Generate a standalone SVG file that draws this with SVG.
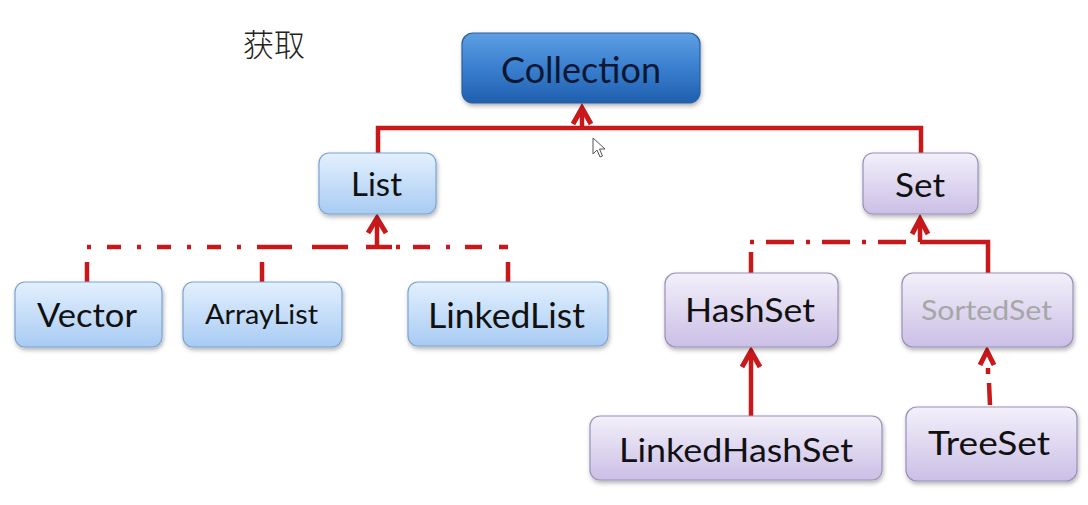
<svg xmlns="http://www.w3.org/2000/svg" width="1088" height="505" viewBox="0 0 1088 505">
<defs>
<linearGradient id="gBlue" x1="0" y1="0" x2="0" y2="1"><stop offset="0" stop-color="#5d9fe2"/><stop offset="0.5" stop-color="#3a7fcf"/><stop offset="1" stop-color="#1f5fae"/></linearGradient>
<linearGradient id="gLight" x1="0" y1="0" x2="0" y2="1"><stop offset="0" stop-color="#e3f0fe"/><stop offset="1" stop-color="#a8cbf3"/></linearGradient>
<linearGradient id="gPurple" x1="0" y1="0" x2="0" y2="1"><stop offset="0" stop-color="#f3f0fa"/><stop offset="1" stop-color="#cbbfe6"/></linearGradient>
<filter id="sh" x="-10%" y="-10%" width="125%" height="140%"><feDropShadow dx="1" dy="2.5" stdDeviation="2" flood-color="#000" flood-opacity="0.3"/></filter>
</defs>
<style>
.blue{fill:url(#gBlue);stroke:#2a5f9e;stroke-width:1.2;filter:url(#sh)}
.light{fill:url(#gLight);stroke:#7aa3d2;stroke-width:1.2;filter:url(#sh)}
.purple{fill:url(#gPurple);stroke:#9a90b8;stroke-width:1.2;filter:url(#sh)}
.t{font-family:Lato,"Open Sans",sans-serif;text-anchor:middle;fill:#111}
.ln{fill:none;stroke:#c8181a;stroke-width:4.5}
.dl{fill:none;stroke:#c8181a;stroke-width:4.5}
.ah{fill:none;stroke:#c8181a;stroke-width:5;stroke-linejoin:miter;stroke-linecap:butt}
</style>
<text x="243" y="56" font-family="'Noto Sans CJK SC',serif" font-weight="300" font-size="31" fill="#222">获取</text>
<g id="connectors">
<path class="ln" d="M378,153 V128 H921 V153"/>
<path class="ln" d="M582,128 V108"/>
<polyline class="ah" points="573,124 582,108 591,124"/>
<path class="dl" d="M87,247 H262" stroke-dasharray="4 16 14 16"/>
<path class="dl" d="M262,247 H292 M312,247 H348 M366,247 H392"/>
<path class="dl" d="M396,247 H400 M413,247 H430 M446,247 H450 M465,247 H482 M499,247 H508"/>
<path class="dl" d="M87,262 V282 M262,262 V282 M508,262 V282"/>
<path class="ln" d="M377,247 V219"/>
<polyline class="ah" points="368,233 377,218 386,233"/>
<path class="dl" d="M750,242 H917" stroke-dasharray="4 12 28 12"/>
<path class="dl" d="M751,252 V273"/>
<path class="ln" d="M920,242 H988 V273 M920,242 V220"/>
<polyline class="ah" points="912,234 920,219 928,234"/>
<path class="ln" d="M751,416 V352"/>
<polyline class="ah" points="742,367 751,351 760,367"/>
<path class="dl" d="M990,405 L989,383 M988,374 L988,368"/>
<polyline class="ah" points="980,365 987,351 994,365"/>
</g>
<g id="collection"><rect class="blue" x="462" y="33" width="238" height="70" rx="11"/><text class="t" x="581" y="83" font-size="36" style="fill:#0b1733" textLength="160" lengthAdjust="spacingAndGlyphs">Collection</text></g>
<g id="list"><rect class="light" x="319" y="153" width="117" height="61" rx="10"/><text class="t" x="376.5" y="196" font-size="33" textLength="51" lengthAdjust="spacingAndGlyphs">List</text></g>
<g id="set"><rect class="purple" x="863" y="153" width="115" height="61" rx="10"/><text class="t" x="920" y="197" font-size="33" textLength="50" lengthAdjust="spacingAndGlyphs">Set</text></g>
<g id="vector"><rect class="light" x="15" y="282" width="147" height="65" rx="10"/><text class="t" x="87" y="327" font-size="33" textLength="100" lengthAdjust="spacingAndGlyphs">Vector</text></g>
<g id="arraylist"><rect class="light" x="183" y="282" width="159" height="65" rx="10"/><text class="t" x="261.5" y="324" font-size="26" textLength="113" lengthAdjust="spacingAndGlyphs">ArrayList</text></g>
<g id="linkedlist"><rect class="light" x="408" y="282" width="200" height="64" rx="10"/><text class="t" x="506.5" y="328" font-size="34" textLength="157" lengthAdjust="spacingAndGlyphs">LinkedList</text></g>
<g id="hashset"><rect class="purple" x="665" y="273" width="173" height="74" rx="11"/><text class="t" x="750" y="322" font-size="33" textLength="130" lengthAdjust="spacingAndGlyphs">HashSet</text></g>
<g id="sortedset"><rect class="purple" x="902" y="273" width="171" height="74" rx="11"/><text class="t" x="986.5" y="320" font-size="26" style="fill:#a6a6a6" textLength="131" lengthAdjust="spacingAndGlyphs">SortedSet</text></g>
<g id="linkedhashset"><rect class="purple" x="590" y="416" width="292" height="64" rx="10"/><text class="t" x="736" y="462" font-size="33" textLength="234" lengthAdjust="spacingAndGlyphs">LinkedHashSet</text></g>
<g id="treeset"><rect class="purple" x="906" y="407" width="171" height="74" rx="11"/><text class="t" x="989" y="455" font-size="32" textLength="122" lengthAdjust="spacingAndGlyphs">TreeSet</text></g>
<path d="M593,138 V154 L597,150 L600,157 L602.5,156 L599.5,149 L605,149 Z" fill="#fff" stroke="#555" stroke-width="1"/>
</svg>
